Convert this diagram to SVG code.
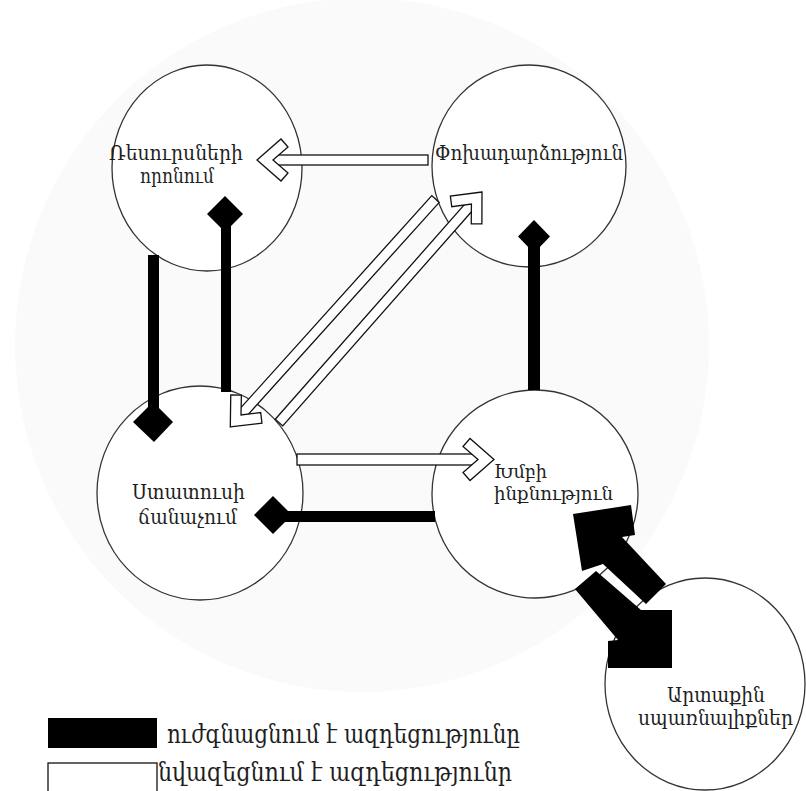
<svg xmlns="http://www.w3.org/2000/svg" width="806" height="791" viewBox="0 0 806 791">
<defs>
<style>
.node ellipse{fill:#fff;stroke:#333;stroke-width:1.3}
.lbl{font-family:"DejaVu Serif","DejaVu Sans",serif;font-size:20px;fill:#1e1e1e}
.sm{font-size:18px}
.leg{font-family:"DejaVu Serif","DejaVu Sans",serif;font-size:26px;fill:#1e1e1e}
.blk{fill:#000;stroke:none}
.wht{fill:#fff;stroke:#111;stroke-width:1.3;stroke-linejoin:miter}
</style>
<path id="chev" d="M0,0 L-24,-21 L-31,-13 L-16,0 L-31,13 L-24,21 Z"/>
</defs>
<rect width="806" height="791" fill="#fff"/>
<circle cx="362" cy="345" r="347" fill="#fafafa"/>

<g id="node-resources" class="node">
<ellipse cx="207" cy="168" rx="95" ry="103"/>
<text class="lbl" x="109" y="160" textLength="134" lengthAdjust="spacingAndGlyphs">Ռեսուրսների</text>
<text class="lbl" x="140" y="183" textLength="74" lengthAdjust="spacingAndGlyphs">որոնում</text>
</g>
<g id="node-reciprocity" class="node">
<ellipse cx="529" cy="166" rx="97" ry="101"/>
<text class="lbl" x="435" y="160" textLength="188" lengthAdjust="spacingAndGlyphs">Փոխադարձություն</text>
</g>
<g id="node-status" class="node">
<ellipse cx="200" cy="493" rx="103" ry="107"/>
<text class="lbl" x="132" y="499" textLength="113" lengthAdjust="spacingAndGlyphs">Ստատուսի</text>
<text class="lbl" x="138" y="524" textLength="99" lengthAdjust="spacingAndGlyphs">ճանաչում</text>
</g>
<g id="node-identity" class="node">
<ellipse cx="535" cy="494" rx="103" ry="104"/>
<text class="lbl sm" x="494" y="478" textLength="53" lengthAdjust="spacingAndGlyphs">Խմբի</text>
<text class="lbl sm" x="494" y="500" textLength="119" lengthAdjust="spacingAndGlyphs">ինքնություն</text>
</g>
<g id="node-threats" class="node">
<ellipse cx="705" cy="684" rx="100" ry="106"/>
<text class="lbl" x="667" y="702" textLength="98" lengthAdjust="spacingAndGlyphs">Արտաքին</text>
<text class="lbl" x="638" y="725" textLength="155" lengthAdjust="spacingAndGlyphs">սպառնալիքներ</text>
</g>

<g id="connectors">
<!-- black: resources -> status -->
<rect class="blk" x="148" y="255" width="11" height="160"/>
<polygon class="blk" points="153,402 173,422 154,442 133,422"/>
<!-- black: status -> resources -->
<rect class="blk" x="221" y="212" width="10" height="180"/>
<polygon class="blk" points="225,196 243,214 225,232 207,214"/>
<!-- black: identity -> reciprocity -->
<rect class="blk" x="528" y="235" width="12" height="155"/>
<polygon class="blk" points="534,220 550,236.5 534,253 518,236.5"/>
<!-- black: identity -> status -->
<rect class="blk" x="270" y="511" width="165" height="11"/>
<polygon class="blk" points="254,515 273,496 292,515 273,534"/>
<!-- black: threats -> identity -->
<polygon class="blk" points="573,514 631,505 635,535 622,537 666,584 646,604 603,564 582,571"/>
<!-- black: identity -> threats -->
<polygon class="blk" points="575,589 596,571 641,610 672,610 672,668 608,668 608,641 618,640"/>
<!-- white: reciprocity -> resources -->
<rect class="wht" x="273" y="155" width="155" height="10"/>
<use href="#chev" class="wht" transform="translate(257,160) rotate(180)"/>
<!-- white: status -> identity -->
<rect class="wht" x="297" y="454" width="181" height="11"/>
<use href="#chev" class="wht" transform="translate(494,459.5)"/>
<!-- white: reciprocity -> status -->
<rect class="wht" x="0" y="-5" width="291" height="10" transform="translate(435.5,199) rotate(132)"/>
<use href="#chev" class="wht" transform="translate(230.3,426.9) rotate(132)"/>
<!-- white: status -> reciprocity -->
<rect class="wht" x="0" y="-5" width="291" height="10" transform="translate(279,422.5) rotate(-48.6)"/>
<use href="#chev" class="wht" transform="translate(482,192) rotate(-48.6)"/>
</g>

<g id="legend">
<rect class="blk" x="48" y="718" width="109" height="30"/>
<text class="leg" x="167" y="743" textLength="353" lengthAdjust="spacingAndGlyphs">ուժգնացնում է ազդեցությունը</text>
<rect class="wht" x="48" y="763" width="109" height="32"/>
<text class="leg" x="158" y="781" textLength="354" lengthAdjust="spacingAndGlyphs">նվազեցնում է ազդեցությունր</text>
</g>
</svg>
